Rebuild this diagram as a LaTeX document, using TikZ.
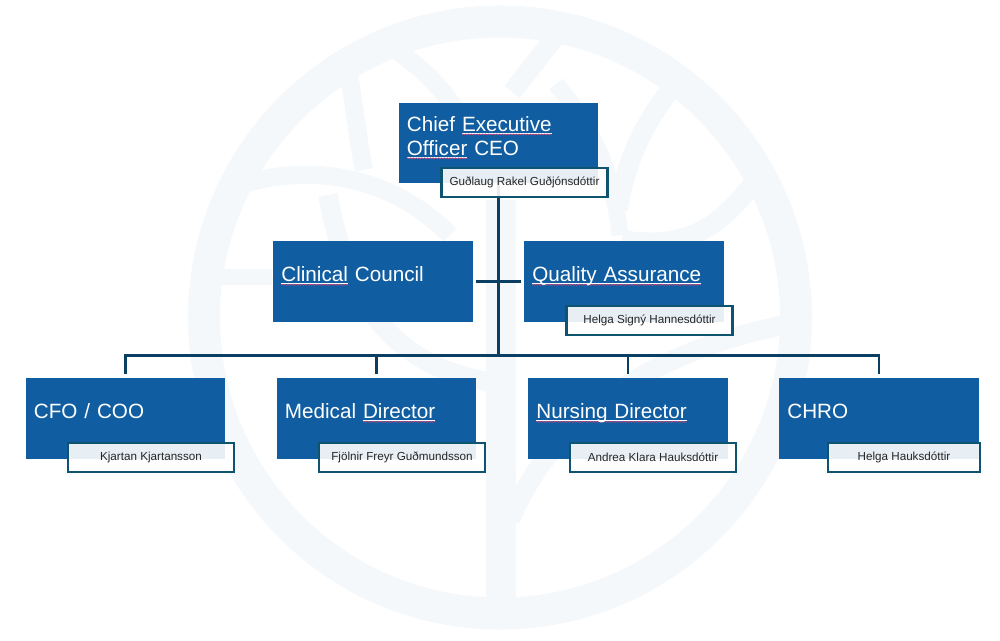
\documentclass[tikz,border=0pt]{standalone}
\usepackage{fontspec}
\setmainfont{Liberation Sans}
\newfontfamily\titlefont[WordSpace=0.75]{Liberation Sans}
\usetikzlibrary{decorations.pathmorphing}
\definecolor{boxblue}{RGB}{16,94,161}
\definecolor{namerule}{RGB}{14,84,112}
\definecolor{linkcolor}{RGB}{10,62,98}
\definecolor{markcolor}{RGB}{245,248,251}
\definecolor{spellred}{RGB}{214,70,120}
\newsavebox{\spellbox}
\newlength{\spellwidth}
\newcommand{\spell}[1]{\leavevmode\sbox{\spellbox}{#1}\setlength{\spellwidth}{\wd\spellbox}\rlap{\tikz[overlay]{\draw[draw=white, line width=0.3pt] (0pt,-1.4pt) -- (\spellwidth,-1.4pt); \draw[spellwave] (0pt,-2.2pt) -- (\spellwidth,-2.2pt);}}\usebox{\spellbox}}
\newcommand{\titlegap}{\strut\par\vspace{6.5pt}}

\begin{document}
\begin{tikzpicture}[
    x=0.25mm, y=-0.25mm,
    titlebox/.style={draw=none, fill=boxblue, minimum width=49.8mm, minimum height=20mm, inner sep=0pt, text width=45.8mm, align=left, text=white, font=\titlefont\fontsize{14.7}{17}\selectfont, execute at begin node=\strut, execute at end node=\titlegap},
    namebox/.style={draw=namerule, line width=1.6pt, fill=white, fill opacity=0.9, text opacity=1, minimum width=#1, minimum height=7.1mm, inner sep=0pt, text=black!85, font=\fontsize{8.3}{10}\selectfont},
    link/.style={draw=linkcolor, line width=1.9pt},
    treeband/.style={draw=markcolor, line width=#1},
    spellwave/.style={draw=spellred, line width=0.4pt, decorate, decoration={snake, segment length=2pt, amplitude=0.35pt}},
]
\useasboundingbox (0,0) rectangle (1000,641);

%% Watermark
\draw[treeband=22.8pt] (500,317.5) circle (296);
\draw[treeband=22pt] (501,200) -- (501,600);
\draw[treeband=13pt] (225,190) .. controls (290,165) and (380,165) .. (450,235);
\draw[treeband=13pt] (349,75) .. controls (355,110) and (358,140) .. (364,170);
\draw[treeband=14pt] (328,195) .. controls (345,290) and (385,365) .. (490,382);
\draw[treeband=13pt] (398,52) .. controls (425,70) and (445,90) .. (465,125);
\draw[treeband=11pt] (222,277) -- (272,277);
\draw[treeband=14pt] (556,36) -- (512,92);
\draw[treeband=14pt] (670,90) .. controls (640,130) and (625,165) .. (618,210);
\draw[treeband=12pt] (556,84) .. controls (590,125) and (612,165) .. (620,235);
\draw[treeband=14pt] (752,185) .. controls (720,225) and (690,250) .. (622,240);
\draw[treeband=14pt] (785,325) .. controls (680,345) and (560,400) .. (510,520);

%% Boxes
\node[titlebox] (ceo) at (498.5,143) {Chief \spell{Executive}\\\spell{Officer} CEO};
\node[titlebox] (clinical) at (373,281.5) {\spell{Clinical} Council};
\node[titlebox] (quality) at (624,281.5) {\spell{Quality Assurance}};
\node[titlebox] (cfo) at (125.5,418.5) {CFO / COO};
\node[titlebox] (medical) at (376.5,418.5) {Medical \spell{Director}};
\node[titlebox] (nursing) at (628,418.5) {\spell{Nursing Director}};
\node[titlebox] (chro) at (879,418.5) {CHRO};

%% Connections
\coordinate (bus) at (498.5,355.5);
\draw[link] (ceo.south) -- (bus);
\draw[link, shorten <=2pt, shorten >=2pt] (clinical.east) -- (quality.west);
\foreach \n in {cfo, medical, nursing, chro}
    \draw[link, shorten >=3pt] (bus) -| (\n.north);

%% Names
\node[namebox=41.5mm] (ceoname) at (524.5,182.5) {Guðlaug Rakel Guðjónsdóttir};
\node[namebox=41.5mm] (qualityname) at (649.5,320.5) {Helga Signý Hannesdóttir};
\node[namebox=41.5mm] (cfoname) at (151,457.5) {Kjartan Kjartansson};
\node[namebox=41.5mm] (medicalname) at (402,457.5) {Fjölnir Freyr Guðmundsson};
\node[namebox=41.5mm] (nursingname) at (653,457.5) {Andrea Klara Hauksdóttir};
\node[namebox=38mm] (chroname) at (904,457.5) {Helga Hauksdóttir};

\end{tikzpicture}
\end{document}
